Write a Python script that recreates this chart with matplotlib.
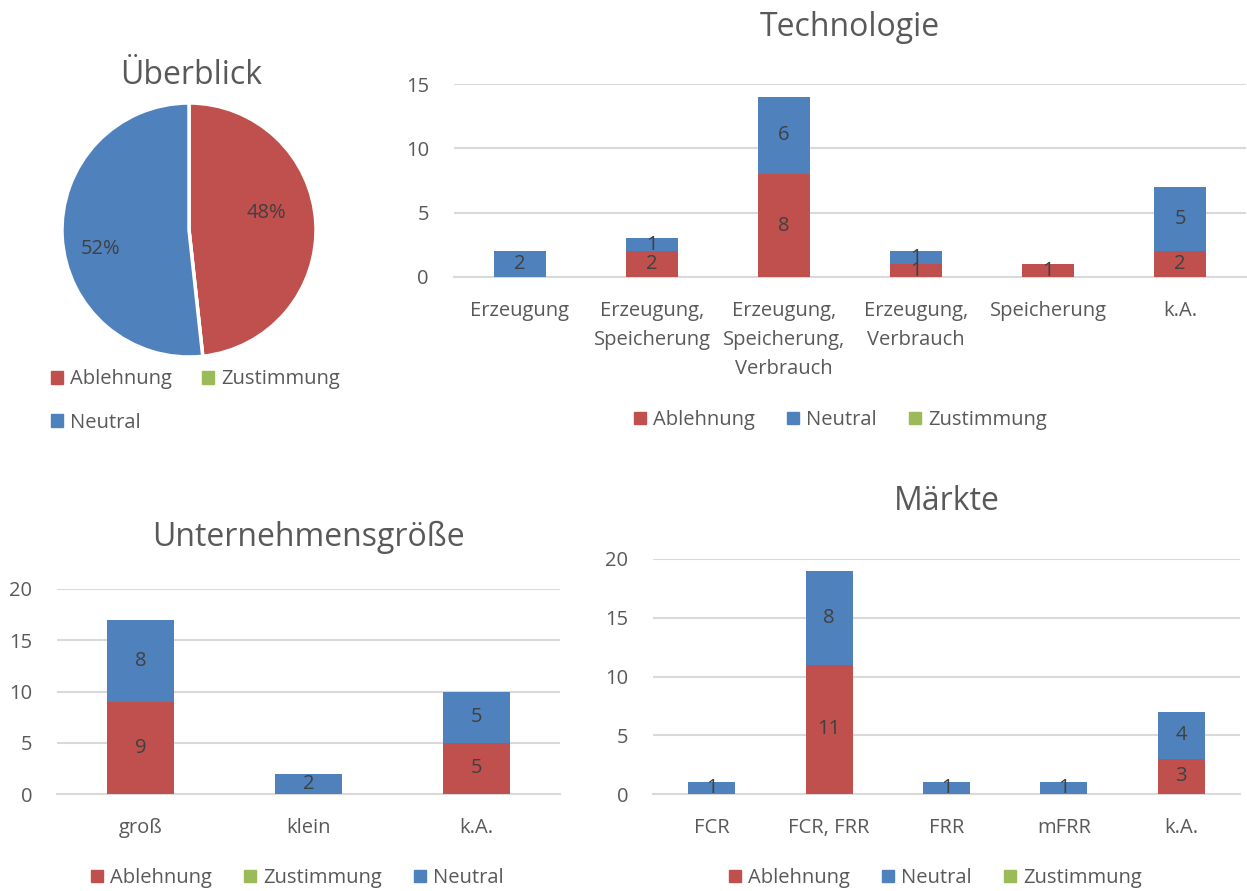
import matplotlib.pyplot as plt
from matplotlib.patches import Patch
import numpy as np

plt.rcParams['font.family'] = ['Open Sans', 'DejaVu Sans']

# Farben
ROT = '#C0504D'
BLAU = '#4F81BD'
GRUEN = '#9BBB59'
TEXT = '#595959'
LABEL = '#404040'
GRID = '#D9D9D9'

# Daten
serien = ['Ablehnung', 'Zustimmung', 'Neutral']
gesamt = [14, 0, 15]

tech_kat = ['Erzeugung', 'Erzeugung,\nSpeicherung', 'Erzeugung,\nSpeicherung,\nVerbrauch',
            'Erzeugung,\nVerbrauch', 'Speicherung', 'k.A.']
tech_ablehnung = [0, 2, 8, 1, 1, 2]
tech_neutral = [2, 1, 6, 1, 0, 5]
tech_zustimmung = [0, 0, 0, 0, 0, 0]

groesse_kat = ['groß', 'klein', 'k.A.']
groesse_ablehnung = [9, 0, 5]
groesse_neutral = [8, 2, 5]
groesse_zustimmung = [0, 0, 0]

markt_kat = ['FCR', 'FCR, FRR', 'FRR', 'mFRR', 'k.A.']
markt_ablehnung = [0, 11, 0, 0, 3]
markt_neutral = [1, 8, 1, 1, 4]
markt_zustimmung = [0, 0, 0, 0, 0]

W, H = 1247, 891
FS = 14.5
fig = plt.figure(figsize=(W / 100, H / 100), dpi=100)


def box(x0, x1, y_top, y_bot):
    return [x0 / W, 1 - y_bot / H, (x1 - x0) / W, (y_bot - y_top) / H]


def legende(order, x, y, ncol=3, spacing=1.6):
    farben = {'Ablehnung': ROT, 'Neutral': BLAU, 'Zustimmung': GRUEN}
    handles = [Patch(color=farben[n], label=n) for n in order]
    fig.legend(handles=handles, loc='center left', bbox_to_anchor=(x / W, 1 - y / H),
               ncol=ncol, frameon=False, fontsize=FS, handlelength=0.6, handleheight=0.6,
               handletextpad=0.35, columnspacing=spacing, labelcolor=TEXT, borderpad=0,
               borderaxespad=0, labelspacing=1.15)


def balken(ax, kat, ablehnung, neutral, zustimmung, ymax, titel, title_y):
    x = np.arange(len(kat))
    a = np.array(ablehnung)
    n = np.array(neutral)
    b1 = ax.bar(x, a, width=0.4, color=ROT, zorder=3)
    b2 = ax.bar(x, n, bottom=a, width=0.4, color=BLAU, zorder=3)
    ax.bar(x, zustimmung, bottom=a + n, width=0.4, color=GRUEN, zorder=3)
    ax.bar_label(b1, labels=[str(v) if v else '' for v in a], label_type='center',
                 color=LABEL, fontsize=FS, zorder=4)
    ax.bar_label(b2, labels=[str(v) if v else '' for v in n], label_type='center',
                 color=LABEL, fontsize=FS, zorder=4)
    ax.set_xlim(-0.5, len(kat) - 0.5)
    ax.set_ylim(0, ymax)
    ax.set_yticks(np.arange(0, ymax + 1, 5))
    ax.set_xticks(x, kat, linespacing=1.6)
    ax.yaxis.grid(True, color=GRID, linewidth=1.5, zorder=0)
    for s in ['top', 'right', 'left']:
        ax.spines[s].set_visible(False)
    ax.spines['bottom'].set_color(GRID)
    ax.spines['bottom'].set_linewidth(1.5)
    ax.tick_params(length=0, labelsize=FS, labelcolor=TEXT)
    ax.tick_params(axis='x', pad=17)
    ax.tick_params(axis='y', pad=18)
    ax.set_facecolor('none')
    pos = ax.get_position()
    fig.text(pos.x0 + pos.width / 2, 1 - title_y / H, titel,
             ha='center', va='center', fontsize=23, color=TEXT)


# Überblick (Kreisdiagramm)
ax_pie = fig.add_axes(box(62, 316, 103, 357))
_, _, prozente = ax_pie.pie(gesamt, colors=[ROT, GRUEN, BLAU], startangle=90, counterclock=False,
                            autopct=lambda p: f'{p:.0f}%' if p > 0 else '', pctdistance=0.68,
                            wedgeprops={'edgecolor': 'white', 'linewidth': 2.5},
                            textprops={'color': LABEL, 'fontsize': FS})
prozente[0].set_position((0.61, 0.13))
prozente[2].set_position((-0.70, -0.15))
ax_pie.set_xlim(-1, 1)
ax_pie.set_ylim(-1, 1)
fig.text(191 / W, 1 - 75 / H, 'Überblick', ha='center', va='center', fontsize=23, color=TEXT)
legende(['Ablehnung', 'Neutral', 'Zustimmung'], 51, 401, ncol=2, spacing=1.5)

# Technologie
ax_t = fig.add_axes(box(454, 1246, 84, 277))
balken(ax_t, tech_kat, tech_ablehnung, tech_neutral, tech_zustimmung, 15, 'Technologie', 28)
legende(['Ablehnung', 'Neutral', 'Zustimmung'], 634, 420)

# Unternehmensgröße
ax_u = fig.add_axes(box(57, 560, 589, 794))
balken(ax_u, groesse_kat, groesse_ablehnung, groesse_neutral, groesse_zustimmung, 20,
       'Unternehmensgröße', 537)
legende(['Ablehnung', 'Zustimmung', 'Neutral'], 91, 878)

# Märkte
ax_m = fig.add_axes(box(653, 1240, 559, 794))
balken(ax_m, markt_kat, markt_ablehnung, markt_neutral, markt_zustimmung, 20, 'Märkte', 502)
legende(['Ablehnung', 'Neutral', 'Zustimmung'], 729, 878)

fig.savefig('out.png', dpi=100)
